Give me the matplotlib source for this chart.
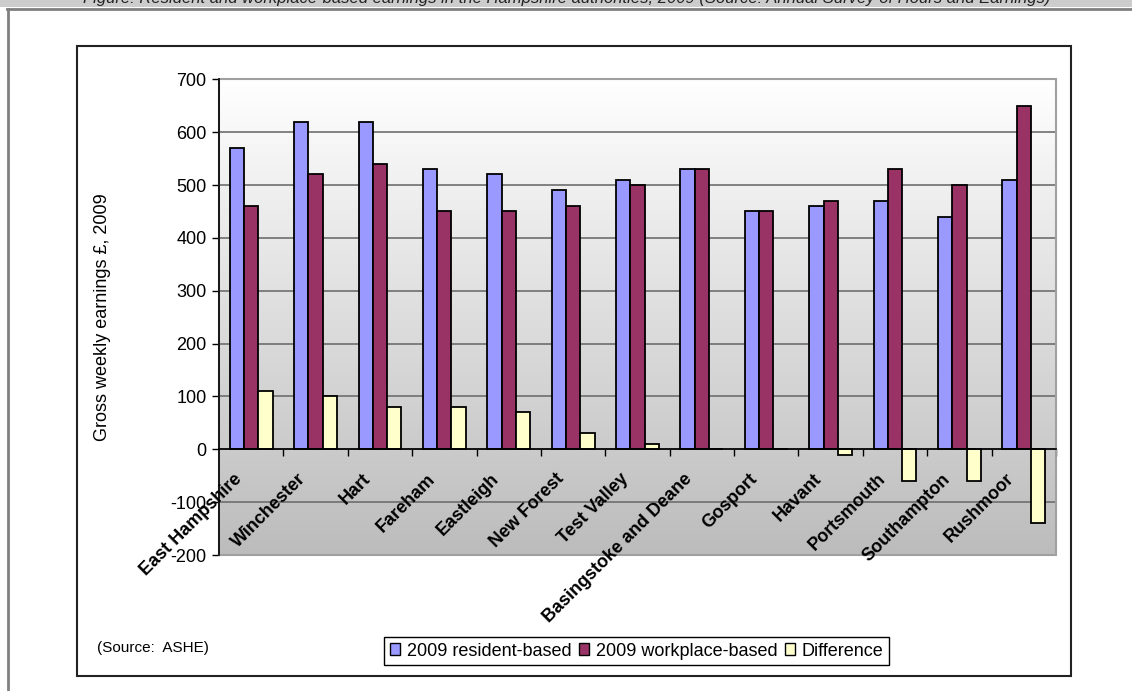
import numpy as np
import matplotlib
matplotlib.use('Agg')
import matplotlib.pyplot as plt
from matplotlib.patches import Rectangle, Patch
from matplotlib.lines import Line2D

plt.rcParams['font.family'] = ['Liberation Sans', 'DejaVu Sans']
plt.rcParams['axes.unicode_minus'] = False

# data
areas = ['East Hampshire', 'Winchester', 'Hart', 'Fareham', 'Eastleigh', 'New Forest',
         'Test Valley', 'Basingstoke and Deane', 'Gosport', 'Havant', 'Portsmouth',
         'Southampton', 'Rushmoor']
resident = [570, 620, 620, 530, 520, 490, 510, 530, 450, 460, 470, 440, 510]
workplace = [460, 520, 540, 450, 450, 460, 500, 530, 450, 470, 530, 500, 650]
difference = [110, 100, 80, 80, 70, 30, 10, 0, 0, -10, -60, -60, -140]
series_names = ['2009 resident-based', '2009 workplace-based', 'Difference']
colors = ['#9999FF', '#993366', '#FFFFCC']
yticks = list(range(-200, 701, 100))

W, H = 1132, 691
fig = plt.figure(figsize=(W / 100, H / 100), dpi=100)

# page decorations: grey strip with clipped caption, outer grey frame, inner chart frame
fig.patches.append(Rectangle((0, 1 - 7 / H), 1, 7 / H, transform=fig.transFigure,
                             facecolor='#cccccc', edgecolor='none', zorder=0))
fig.text(1050 / W, 1 - 3 / H,
         'Figure: Resident and workplace-based earnings in the Hampshire authorities, 2009 '
         '(Source: Annual Survey of Hours and Earnings)',
         ha='right', va='baseline', fontsize=12, style='italic', color='#222222')
fig.lines.append(Line2D([7 / W, 1], [1 - 8.5 / H, 1 - 8.5 / H], transform=fig.transFigure,
                        color='#808080', lw=2))
fig.lines.append(Line2D([7.5 / W, 7.5 / W], [0, 1 - 8.5 / H], transform=fig.transFigure,
                        color='#808080', lw=2))
fig.patches.append(Rectangle((77 / W, 1 - 676 / H), (1071 - 77) / W, (676 - 46) / H,
                             transform=fig.transFigure, fill=False,
                             edgecolor='#222222', lw=1.5))

ax = fig.add_axes([219 / W, 1 - 555 / H, (1056 - 219) / W, (555 - 79.3) / H])
ax.set_xlim(-0.5, len(areas) - 0.5)
ax.set_ylim(-200, 700)

# gradient background of the plot area
grad = np.linspace(1, 0, 256).reshape(-1, 1)
ax.imshow(grad, extent=[0, 1, 0, 1], transform=ax.transAxes, aspect='auto',
          cmap=matplotlib.colors.LinearSegmentedColormap.from_list('g', ['#bcbcbc', '#ffffff']),
          zorder=0, interpolation='bilinear')
ax.patch.set_visible(False)
ax.add_patch(Rectangle((0, 0), 1, 1, transform=ax.transAxes, fill=False,
                       edgecolor='#a0a0a0', lw=1.5, clip_on=False, zorder=1))

ax.set_yticks(yticks)
ax.yaxis.grid(True, color='#6e6e6e', lw=1.2, zorder=1)
ax.set_axisbelow(True)

x = np.arange(len(areas))
bw = 0.222
for k, vals in enumerate([resident, workplace, difference]):
    ax.bar(x + (k - 1) * bw, vals, bw, color=colors[k], edgecolor='black', lw=1.3,
           zorder=3, label=series_names[k])

for s in ['top', 'right']:
    ax.spines[s].set_visible(False)
ax.spines['bottom'].set_position(('data', 0))
ax.spines['bottom'].set_color('black')
ax.spines['bottom'].set_linewidth(1.2)
ax.spines['bottom'].set_zorder(4)
ax.spines['left'].set_color('black')
ax.spines['left'].set_linewidth(1.2)

ax.set_xticks(np.arange(0.5, len(areas), 1))
ax.set_xticklabels([])
ax.tick_params(axis='x', direction='out', length=5, width=1, color='black')
ax.tick_params(axis='y', direction='out', length=5, width=1, labelsize=13, pad=4)

for i, name in enumerate(areas):
    ax.annotate(name, xy=(i, 0), xytext=(-12, -27), textcoords='offset pixels',
                rotation=45, rotation_mode='anchor', ha='right', va='center',
                fontsize=13, fontweight='bold', zorder=5)

ax.set_ylabel('Gross weekly earnings £, 2009', fontsize=13)
ax.yaxis.set_label_coords((111 - 219) / (1056 - 219), 0.5)

fig.text(97 / W, 1 - 648 / H, '(Source:  ASHE)', fontsize=11, va='center', ha='left')

handles = [Patch(facecolor=c, edgecolor='black', lw=1) for c in colors]
fig.legend(handles, series_names, loc='center', ncol=3,
           bbox_to_anchor=((381 + 892) / 2 / W, 1 - 651 / H), fontsize=13,
           frameon=True, fancybox=False, edgecolor='black', framealpha=1,
           handlelength=0.6, handleheight=0.6, handletextpad=0.35, columnspacing=0.4,
           borderpad=0.3, borderaxespad=0)

fig.savefig('out.png', dpi=100)
